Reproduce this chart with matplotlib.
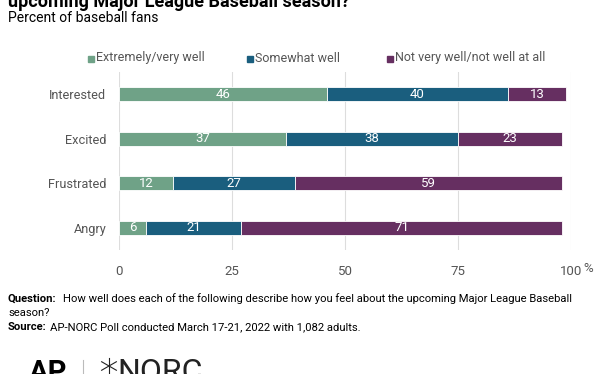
import matplotlib.pyplot as plt
import numpy as np

plt.rcParams['font.family'] = ['Roboto', 'DejaVu Sans']

categories = ["Interested", "Excited", "Frustrated", "Angry"]
series_names = ["Extremely/very well", "Somewhat well", "Not very well/not well at all"]
very_well = [46, 37, 12, 6]
somewhat_well = [40, 38, 27, 21]
not_well = [13, 23, 59, 71]
x_ticks = [0, 25, 50, 75, 100]
x_tick_labels = ["0", "25", "50", "75", "100"]

colors = ["#6fa287", "#1a5e7e", "#662f61"]
label_gray = "#555555"

fig = plt.figure(figsize=(6.12, 3.74), dpi=100)
W, H = 612, 374


def fx(px):
    return px / W


def fy(py):
    return 1 - py / H


ax = fig.add_axes([fx(119), fy(250), fx(571) - fx(119), fy(72) - fy(250)])

y = np.arange(len(categories))
left = np.zeros(len(categories))
for vals, col in zip([very_well, somewhat_well, not_well], colors):
    vals = np.array(vals, dtype=float)
    ax.barh(y, vals, left=left, height=0.31, color=col, edgecolor="white",
            linewidth=0.6, zorder=3)
    for yi, l, v in zip(y, left, vals):
        ax.text(l + v / 2, yi, f"{int(v)}", ha="center", va="center",
                color="white", fontsize=9.5, zorder=4)
    left += vals

ax.set_ylim(3.5, -0.5)
ax.set_xlim(0, 100)
ax.set_yticks(y)
ax.set_yticklabels(categories, fontsize=9.2, color=label_gray)
ax.set_xticks(x_ticks)
ax.set_xticklabels(x_tick_labels, fontsize=9.5, color=label_gray)
ax.tick_params(axis="x", length=0, pad=11)
ax.tick_params(axis="y", length=0, pad=9)
ax.grid(axis="x", color="#dddddd", linewidth=0.8, zorder=0)
for s in ax.spines.values():
    s.set_visible(False)
fig.text(fx(583), fy(268), "%", fontsize=9.5, color=label_gray, va="center", ha="left")

# legend
leg_x = [88, 247, 387]
for lx, name, col in zip(leg_x, series_names, colors):
    fig.patches.append(plt.Rectangle((fx(lx), fy(62)), fx(6), 6 / H, color=col,
                                     transform=fig.transFigure, figure=fig))
    fig.text(fx(lx + 8), fy(58), name, fontsize=9, color=label_gray,
             va="center", ha="left")

# title and subtitle
fig.text(fx(8), fy(7), "upcoming Major League Baseball season?", fontsize=13,
         fontweight="bold", color="black", va="baseline", ha="left")
fig.text(fx(8), fy(22), "Percent of baseball fans", fontsize=10, color="black",
         va="baseline", ha="left")

# notes
note_fs = 8.1
fig.text(fx(8), fy(302), "Question:", fontsize=note_fs, fontweight="bold",
         va="baseline", ha="left")
fig.text(fx(63), fy(302),
         "How well does each of the following describe how you feel about the upcoming Major League Baseball",
         fontsize=note_fs, va="baseline", ha="left")
fig.text(fx(8), fy(316), "season?", fontsize=note_fs, va="baseline", ha="left")
fig.text(fx(8), fy(330), "Source:", fontsize=note_fs, fontweight="bold",
         va="baseline", ha="left")
fig.text(fx(50), fy(330), "AP-NORC Poll conducted March 17-21, 2022 with 1,082 adults.",
         fontsize=note_fs, va="baseline", ha="left")

# logos
fig.text(fx(29), fy(381), "AP", fontsize=21, fontweight="bold", va="baseline", ha="left")
fig.add_artist(plt.Line2D([fx(83), fx(83)], [fy(360), fy(374)], color="#bbbbbb", lw=0.8))
cx, cy, r = 109, 366, 8.5
for ang in [90, 30, -30]:
    a = np.deg2rad(ang)
    fig.add_artist(plt.Line2D([fx(cx - r * np.cos(a)), fx(cx + r * np.cos(a))],
                              [fy(cy - r * np.sin(a)), fy(cy + r * np.sin(a))],
                              color="#222222", lw=0.8))
fig.text(fx(117), fy(381), "NORC", fontsize=23, color="#222222",
         va="baseline", ha="left")

fig.savefig("out.png", dpi=100)
